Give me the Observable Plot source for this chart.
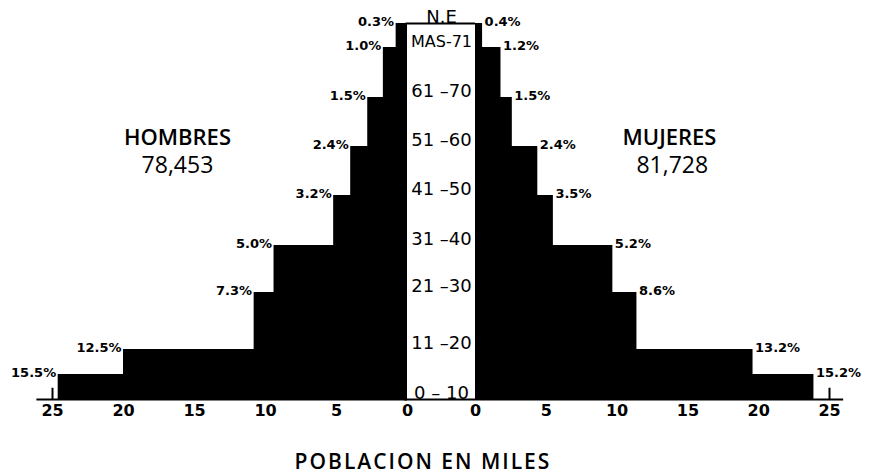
<!DOCTYPE html>
<html><head><meta charset="utf-8">
<script src="https://cdn.jsdelivr.net/npm/d3@7"></script>
<script src="https://cdn.jsdelivr.net/npm/@observablehq/plot@0.6"></script>
<style>
body{margin:0;background:#fff;}
#chart{position:relative;width:871px;height:475px;overflow:hidden;}
#chart svg{position:absolute;left:0;top:0;}
#xlabel{position:absolute;top:451px;left:0;width:846px;text-align:center;font:600 21px/1 "Open Sans";letter-spacing:2px;color:#000;}
</style></head>
<body><div id="chart"><div id="xlabel">POBLACION EN MILES</div></div>
<script>
const edades = ["0 – 10","11 –20","21 –30","31 –40","41 –50","51 –60","61 –70","MAS-71","N.E"];
const hombresMiles = [24.6, 20.0, 10.8, 9.4, 5.2, 4.0, 2.8, 1.7, 0.8];
const mujeresMiles = [23.9, 19.6, 11.4, 9.7, 5.5, 4.4, 2.6, 1.8, 0.5];
const hombresPct = ["15.5%","12.5%","7.3%","5.0%","3.2%","2.4%","1.5%","1.0%","0.3%"];
const mujeresPct = ["15.2%","13.2%","8.6%","5.2%","3.5%","2.4%","1.5%","1.2%","0.4%"];
const ejeTicks = [0, 5, 10, 15, 20, 25];
const tituloHombres = "HOMBRES", totalHombres = "78,453";
const tituloMujeres = "MUJERES", totalMujeres = "81,728";

const filas = edades.map((edad, i) => ({edad, i, hombres: hombresMiles[i], mujeres: mujeresMiles[i], ph: hombresPct[i], pm: mujeresPct[i]}));

const yScale = {type: "linear", domain: d3.range(10), range: [399, 374, 349, 292, 245, 195, 146, 97, 47, 23], axis: null};
const common = {
  width: 871, height: 475, marginTop: 0, marginBottom: 76, marginLeft: 0, marginRight: 0,
  style: {background: "transparent", fontFamily: "DejaVu Sans", fontSize: "16px", fontWeight: "bold", color: "black"}
};
const xAxis = {domain: [0, 25], ticks: ejeTicks, tickSize: 0, tickPadding: 5, label: null, tickFormat: d => String(d)};

const men = Plot.plot({
  ...common,
  x: {...xAxis, range: [407, 52]},
  y: yScale,
  marks: [
    Plot.rect(filas, {x1: () => 0, x2: "hombres", y1: "i", y2: d => d.i + 1, fill: "black"}),
    Plot.ruleY([0], {x1: () => 26.1, x2: () => 0, strokeWidth: 2, stroke: "black"}),
    Plot.ruleX([25], {y1: () => 0, y2: () => 0.45, strokeWidth: 2, stroke: "black"}),
    Plot.text(filas, {x: "hombres", y: d => d.i + 1, text: "ph", textAnchor: "end", lineAnchor: "bottom", dx: -2, dy: 2, fontSize: 13, fontWeight: "bold", fontFamily: "DejaVu Sans"}),
    Plot.text([tituloHombres], {x: () => 16.2, y: () => 6.18, text: d => d, fontSize: 22, fontWeight: 600, fontFamily: "Open Sans"}),
    Plot.text([totalHombres], {x: () => 16.2, y: () => 5.6, text: d => d, fontSize: 23, fontWeight: 400, fontFamily: "Open Sans"})
  ]
});

const women = Plot.plot({
  ...common,
  x: {...xAxis, range: [475, 829]},
  y: yScale,
  marks: [
    Plot.rect(filas, {x1: () => 0, x2: "mujeres", y1: "i", y2: d => d.i + 1, fill: "black"}),
    Plot.ruleY([0], {x1: () => -5, x2: () => 26.0, strokeWidth: 2, stroke: "black"}),
    Plot.ruleY([9], {x1: () => -4.9, x2: () => 0, strokeWidth: 2, stroke: "black"}),
    Plot.ruleX([25], {y1: () => 0, y2: () => 0.45, strokeWidth: 2, stroke: "black"}),
    Plot.text(filas, {x: "mujeres", y: d => d.i + 1, text: "pm", textAnchor: "start", lineAnchor: "bottom", dx: 2, dy: 2, fontSize: 13, fontWeight: "bold", fontFamily: "DejaVu Sans"}),
    Plot.text(filas, {x: () => 0, y: d => d.i === 0 ? 0 : d.i + 1, text: "edad", dx: -34, dy: -1, lineAnchor: "bottom", textAnchor: "middle", fontSize: d => d.edad === "MAS-71" ? 16 : 18, fontWeight: "normal", fontFamily: "DejaVu Sans"}),
    Plot.text([tituloMujeres], {x: () => 13.7, y: () => 6.18, text: d => d, fontSize: 22, fontWeight: 600, fontFamily: "Open Sans"}),
    Plot.text([totalMujeres], {x: () => 13.9, y: () => 5.6, text: d => d, fontSize: 23, fontWeight: 400, fontFamily: "Open Sans"})
  ]
});

const chart = document.getElementById("chart");
chart.insertBefore(men, chart.firstChild);
chart.insertBefore(women, men.nextSibling);
</script>
</body></html>
